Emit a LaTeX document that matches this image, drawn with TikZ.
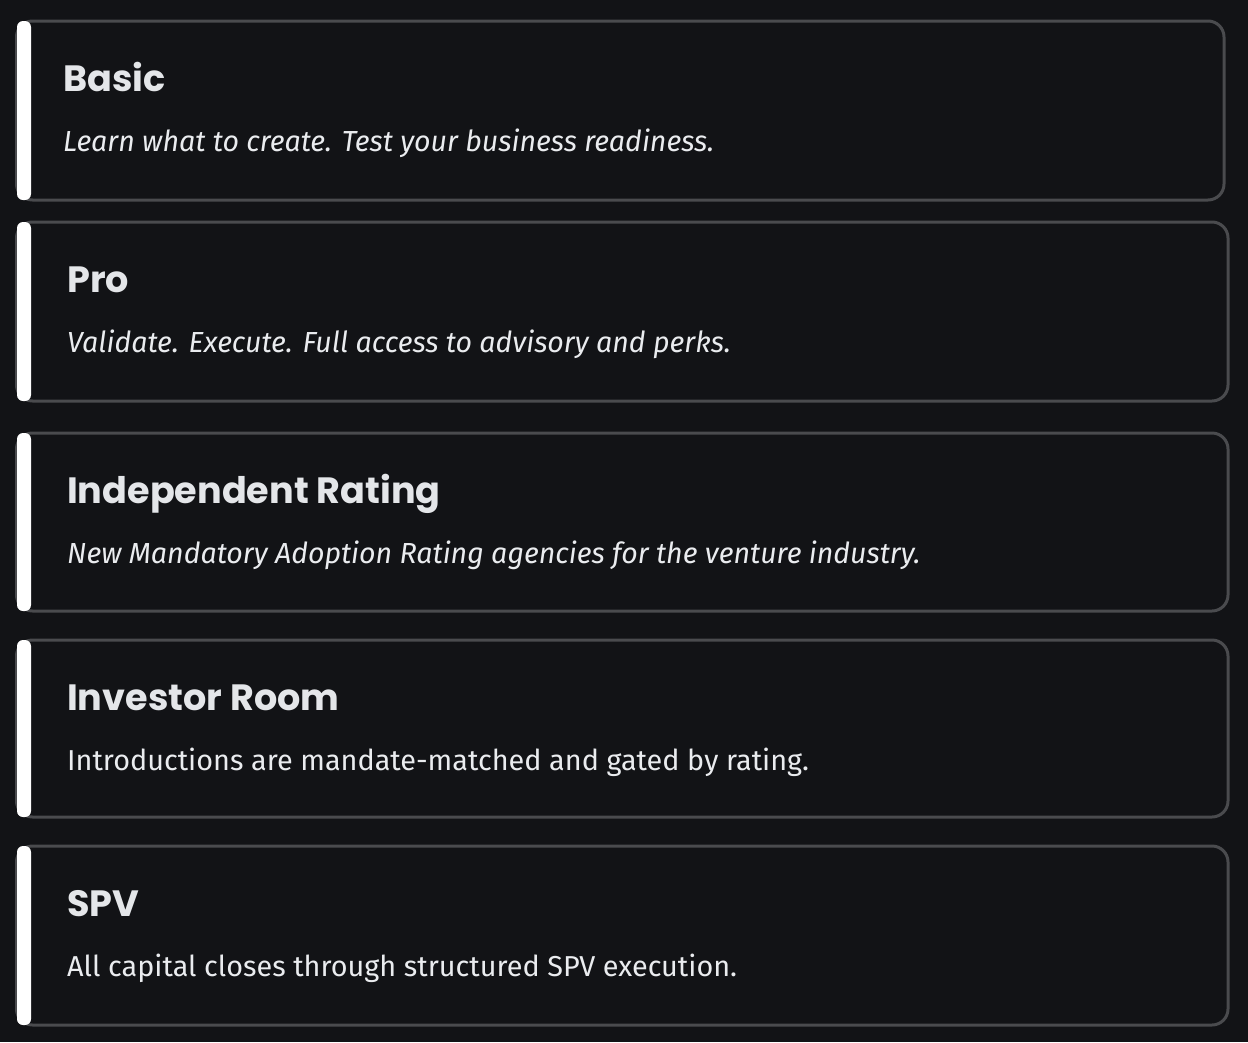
\documentclass[tikz,border=0pt]{standalone}
\usepackage{fontspec}
\setmainfont{Fira Sans}
\newfontfamily\titlefont{Poppins}
\newfontfamily\subitfont{Fira Sans}[FakeStretch=0.985]
\definecolor{bg}{RGB}{18,19,22}
\definecolor{cardline}{RGB}{74,75,78}
\definecolor{titlecol}{RGB}{228,230,233}
\definecolor{subcol}{RGB}{234,236,239}
\tikzset{
  cardbox/.style={draw=cardline, line width=3pt, rounded corners=16pt},
  accent/.style={fill=white, rounded corners=6pt},
  ttl/.style={anchor=base west, inner sep=0pt, text=titlecol, font=\titlefont\bfseries\fontsize{36.6}{40}\selectfont},
  subit/.style={anchor=base west, inner sep=0pt, text=subcol, font=\subitfont\itshape\fontsize{29}{36}\selectfont},
  subup/.style={anchor=base west, inner sep=0pt, text=subcol, font=\fontsize{28.8}{36}\selectfont},
}
\begin{document}
\begin{tikzpicture}[x=1pt,y=-1pt]
\fill[bg] (0,0) rectangle (1248,1042);
\useasboundingbox (0,0) rectangle (1248,1042);
% card 1
\draw[cardbox] (16.5,21) rectangle (1224,200);
\fill[accent] (17,21) rectangle (31,200);
\node[ttl] (t1) at (63,91) {Basic};
\node[subit] (s1) at (63,151) {Learn what to create. Test your business readiness.};
% card 2
\draw[cardbox] (16.5,222) rectangle (1228,401);
\fill[accent] (17,222) rectangle (31,401);
\node[ttl] (t2) at (67,292) {Pro};
\node[subit] (s2) at (67,352) {Validate. Execute. Full access to advisory and perks.};
% card 3
\draw[cardbox] (16.5,433) rectangle (1228,611);
\fill[accent] (17,433) rectangle (31,611);
\node[ttl] (t3) at (67,503) {Independent Rating};
\node[subit] (s3) at (67,563) {New Mandatory Adoption Rating agencies for the venture industry.};
% card 4
\draw[cardbox] (16.5,640) rectangle (1228,817);
\fill[accent] (17,640) rectangle (31,817);
\node[ttl] (t4) at (67,710) {Investor Room};
\node[subup] (s4) at (67,770) {Introductions are mandate-matched and gated by rating.};
% card 5
\draw[cardbox] (16.5,846) rectangle (1228,1025);
\fill[accent] (17,846) rectangle (31,1025);
\node[ttl] (t5) at (67,916) {SPV};
\node[subup] (s5) at (67,976) {All capital closes through structured SPV execution.};
\end{tikzpicture}
\end{document}
